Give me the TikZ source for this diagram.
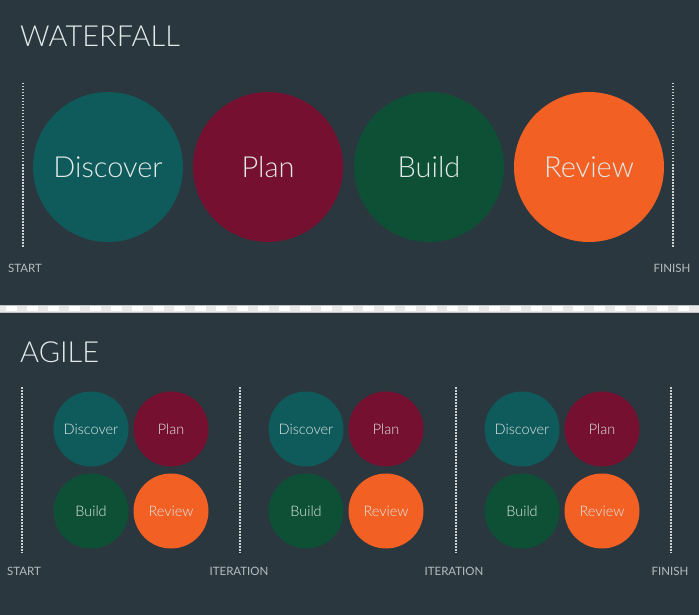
\documentclass[tikz,border=0pt]{standalone}
\usepackage{fontspec}
\setmainfont{Lato}
\newfontfamily\thinfont{Lato Light}
\usepackage{tikz}
\usetikzlibrary{positioning}

\definecolor{bgslate}{HTML}{2B373E}
\definecolor{discover}{HTML}{0F5A5A}
\definecolor{plan}{HTML}{761030}
\definecolor{build}{HTML}{0D5036}
\definecolor{review}{HTML}{F26024}
\definecolor{inktext}{HTML}{E2EAEA}
\definecolor{labelgray}{HTML}{B4BCC0}
\definecolor{sepgray}{HTML}{BFC3C5}
\definecolor{seplight}{HTML}{E8E8E8}

\tikzset{
	bigstage/.style={circle, minimum size=150pt, inner sep=0pt, text=inktext, font=\thinfont\fontsize{29}{29}\selectfont},
	smallstage/.style={circle, minimum size=75pt, inner sep=0pt, text=inktext, font=\thinfont\fontsize{14.5}{14.5}\selectfont},
	dotline/.style={draw=labelgray!70!white, line width=2pt, dash pattern=on 1.5pt off 1.5pt},
	marklabel/.style={text=labelgray, font=\fontsize{11.5}{11.5}\selectfont, inner sep=0pt},
	heading/.style={text=inktext, anchor=base west, inner sep=0pt, font=\thinfont\fontsize{29}{29}\selectfont}
}

\begin{document}
\begin{tikzpicture}[y=-1pt,x=1pt]
	\useasboundingbox[fill=bgslate] (0,0) rectangle (699,615);

	% waterfall
	\node[heading] (wf-title) at (20,47) {WATERFALL};

	\coordinate (wf-start-top) at (23,83);
	\coordinate (wf-start-bot) at (23,248);
	\coordinate (wf-finish-top) at (673,83);
	\coordinate (wf-finish-bot) at (673,248);
	\draw[dotline] (wf-start-top) -- (wf-start-bot);
	\draw[dotline] (wf-finish-top) -- (wf-finish-bot);
	\node[marklabel] (wf-start) at (25,268) {START};
	\node[marklabel] (wf-finish) at (672,268) {FINISH};

	\node[bigstage, fill=discover] (wf-discover) at (108,167) {Discover};
	\node[bigstage, fill=plan] (wf-plan) at (268,167) {Plan};
	\node[bigstage, fill=build] (wf-build) at (429,167) {Build};
	\node[bigstage, fill=review] (wf-review) at (589,167) {Review};

	% separator
	\fill[sepgray] (0,305) rectangle (699,313);
	\fill[seplight] (0,306) rectangle (699,311.5);
	\draw[white, line width=5pt, dash pattern=on 11pt off 10pt, dash phase=15pt] (0,308.7) -- (699,308.7);

	% agile
	\node[heading] (ag-title) at (20,362) {AGILE};

	\coordinate (ag-start-top) at (22,387);
	\coordinate (ag-start-bot) at (22,553);
	\coordinate (ag-it1-top) at (240,387);
	\coordinate (ag-it1-bot) at (240,553);
	\coordinate (ag-it2-top) at (456,387);
	\coordinate (ag-it2-bot) at (456,553);
	\coordinate (ag-finish-top) at (671,387);
	\coordinate (ag-finish-bot) at (671,553);
	\draw[dotline] (ag-start-top) -- (ag-start-bot);
	\draw[dotline] (ag-it1-top) -- (ag-it1-bot);
	\draw[dotline] (ag-it2-top) -- (ag-it2-bot);
	\draw[dotline] (ag-finish-top) -- (ag-finish-bot);
	\node[marklabel] (ag-start) at (24,571) {START};
	\node[marklabel] (ag-it1) at (239,571) {ITERATION};
	\node[marklabel] (ag-it2) at (454,571) {ITERATION};
	\node[marklabel] (ag-finish) at (670,571) {FINISH};

	\node[smallstage, fill=discover] (a-discover) at (91,429) {Discover};
	\node[smallstage, fill=plan] (a-plan) at (171,429) {Plan};
	\node[smallstage, fill=build] (a-build) at (91,511) {Build};
	\node[smallstage, fill=review] (a-review) at (171,511) {Review};

	\node[smallstage, fill=discover] (b-discover) at (306,429) {Discover};
	\node[smallstage, fill=plan] (b-plan) at (386,429) {Plan};
	\node[smallstage, fill=build] (b-build) at (306,511) {Build};
	\node[smallstage, fill=review] (b-review) at (386,511) {Review};

	\node[smallstage, fill=discover] (c-discover) at (522,429) {Discover};
	\node[smallstage, fill=plan] (c-plan) at (602,429) {Plan};
	\node[smallstage, fill=build] (c-build) at (522,511) {Build};
	\node[smallstage, fill=review] (c-review) at (602,511) {Review};
\end{tikzpicture}
\end{document}
